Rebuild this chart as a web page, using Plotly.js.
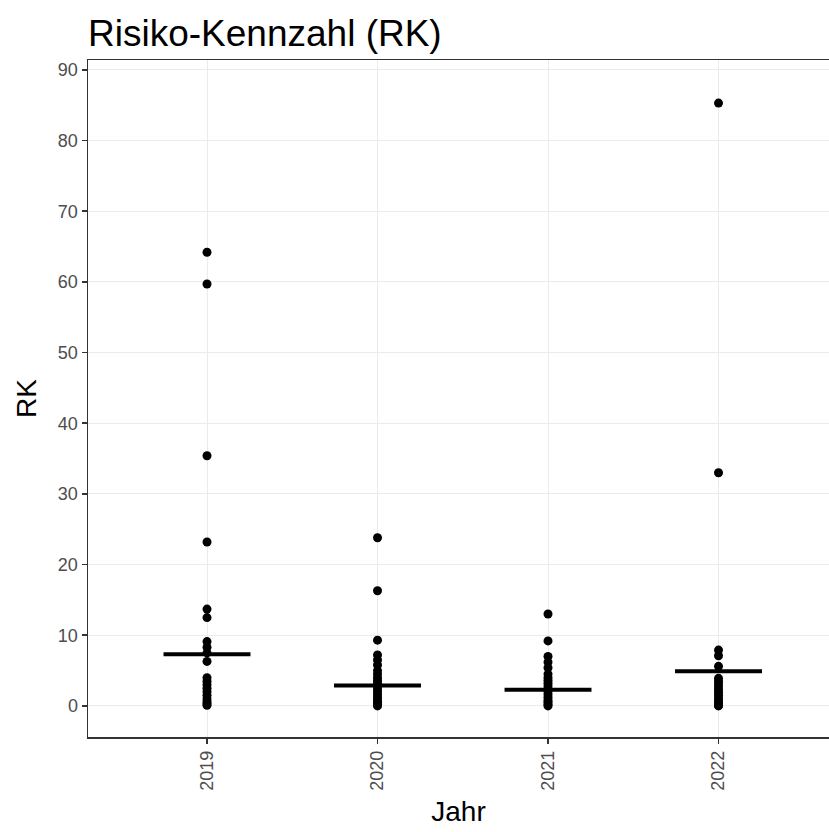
<!DOCTYPE html>
<html>
<head>
<meta charset="utf-8">
<script src="https://cdn.plot.ly/plotly-3.0.1.min.js"></script>
<style>html,body{margin:0;padding:0;background:#fff;overflow:hidden}#chart{width:829px;height:832px}</style>
</head>
<body>
<div id="chart"></div>
<script>
// Years (categories)
const years = [2019, 2020, 2021, 2022];
const yearLabels = ["2019", "2020", "2021", "2022"];

// RK values per year
const rk2019 = [64.2, 59.7, 35.4, 23.2, 13.7, 12.5, 9.1, 8.3, 7.5, 6.3, 4.0, 3.5, 3.0, 2.5, 2.0, 1.5, 1.0, 0.6, 0.3, 0.1];
const rk2020 = [23.8, 16.3, 9.3, 7.2, 6.5, 5.8, 5.0, 4.5, 4.0, 3.6, 3.2, 2.8, 2.4, 2.0, 1.6, 1.2, 0.8, 0.5, 0.2, 0.0];
const rk2021 = [13.0, 9.2, 7.0, 6.2, 5.4, 4.5, 4.0, 3.6, 3.2, 2.8, 2.4, 2.0, 1.6, 1.2, 0.8, 0.5, 0.2, 0.0];
const rk2022 = [85.3, 33.0, 7.9, 7.1, 5.6, 3.9, 3.5, 3.1, 2.7, 2.3, 1.9, 1.5, 1.1, 0.7, 0.4, 0.1, 0.0];

// Mean RK per year (horizontal bars)
const meanRK = [7.3, 2.9, 2.3, 4.9];

const yTicks = [0, 10, 20, 30, 40, 50, 60, 70, 80, 90];

const groups = [rk2019, rk2020, rk2021, rk2022];
const px = [], py = [];
groups.forEach((g, i) => g.forEach(v => { px.push(years[i]); py.push(v); }));

const mx = [], my = [];
const half = 0.255;
years.forEach((yr, i) => { mx.push(yr - half, yr + half, null); my.push(meanRK[i], meanRK[i], null); });

const traces = [
  { type: 'scatter', mode: 'markers', x: px, y: py,
    marker: { color: '#000000', size: 9 }, hoverinfo: 'x+y', showlegend: false },
  { type: 'scatter', mode: 'lines', x: mx, y: my,
    line: { color: '#000000', width: 4 }, hoverinfo: 'skip', showlegend: false }
];

const layout = {
  width: 829, height: 832,
  margin: { l: 88, r: 0, t: 60, b: 95, pad: 0 },
  paper_bgcolor: '#ffffff', plot_bgcolor: '#ffffff',
  font: { family: 'Liberation Sans, Arial, sans-serif', color: '#000' },
  title: { text: 'Risiko-Kennzahl (RK)', x: 88/829, xanchor: 'left', xref: 'container',
           y: 1 - 33/832, yanchor: 'middle', yref: 'container',
           font: { size: 37, color: '#000', family: 'Liberation Sans, Arial, sans-serif' } },
  xaxis: {
    range: [2018.302, 2022.648],
    tickvals: years, ticktext: yearLabels, tickangle: -90,
    tickfont: { size: 18, color: '#4d4d4d' },
    ticks: 'outside', ticklen: 5, tickwidth: 1.5, tickcolor: '#333333',
    showgrid: true, gridcolor: '#ebebeb', gridwidth: 1,
    zeroline: false, showline: true, mirror: true, linecolor: '#333333', linewidth: 1.5,
    title: { text: 'Jahr', font: { size: 28, color: '#000' }, standoff: 11 }
  },
  yaxis: {
    range: [-4.4, 91.4],
    tickvals: yTicks, ticktext: yTicks.map(String),
    tickfont: { size: 18, color: '#4d4d4d' },
    ticks: 'outside', ticklen: 5, tickwidth: 1.5, tickcolor: '#333333',
    showgrid: true, gridcolor: '#ebebeb', gridwidth: 1,
    zeroline: false, showline: true, mirror: false, linecolor: '#333333', linewidth: 1.5,
    title: { text: 'RK', font: { size: 28, color: '#000' }, standoff: 13 }
  }
};

Plotly.newPlot('chart', traces, layout, { displayModeBar: false, staticPlot: true });
</script>
</body>
</html>
